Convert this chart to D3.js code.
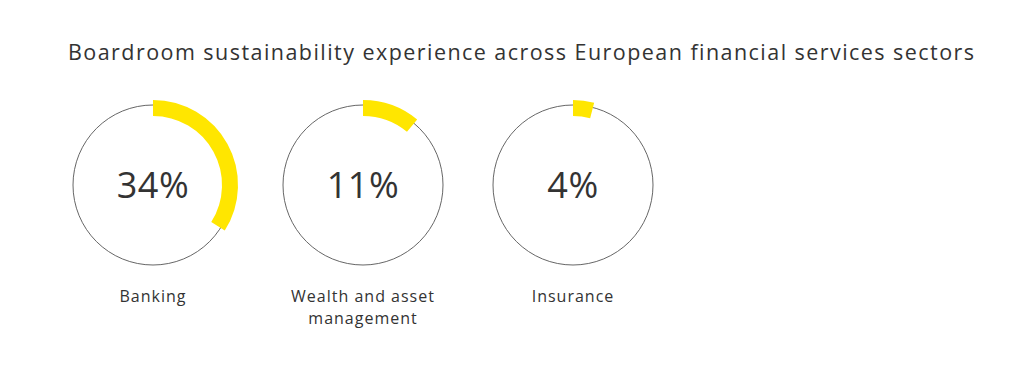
<!DOCTYPE html>
<html><head><meta charset="utf-8">
<script src="https://cdn.jsdelivr.net/npm/d3@7"></script>
<style>body{margin:0;background:#fff;}svg{display:block;}</style>
</head><body>
<svg id="chart" width="1024" height="376"></svg>
<script>
const title = "Boardroom sustainability experience across European financial services sectors";
const categories = [["Banking"], ["Wealth and asset", "management"], ["Insurance"]];
const values = [34, 11, 4];

const svg = d3.select("#chart");
const W = 1024, H = 376;
svg.append("rect").attr("width", W).attr("height", H).attr("fill", "#fff");

svg.append("text").attr("x", 68).attr("y", 60)
  .attr("font-family", "Open Sans, sans-serif").attr("font-size", 21.5)
  .attr("letter-spacing", 1.45)
  .attr("fill", "#333").text(title);

const x = d3.scaleBand().domain(d3.range(values.length)).range([48, 678]).paddingInner(0);
const cy = 185, r = 80;
const pct = d3.scaleLinear().domain([0, 100]).range([0, 2 * Math.PI]);
const arc = d3.arc().innerRadius(69).outerRadius(85).startAngle(0);

const g = svg.selectAll("g.ring").data(values).join("g")
  .attr("class", "ring")
  .attr("transform", (d, i) => `translate(${x(i) + x.bandwidth() / 2},${cy})`);

g.append("circle").attr("r", r).attr("fill", "none").attr("stroke", "#555").attr("stroke-width", 0.9);
g.append("path").attr("d", d => arc({endAngle: pct(d)})).attr("fill", "#FFE600");
g.append("text").attr("text-anchor", "middle").attr("y", 13)
  .attr("font-family", "Open Sans, sans-serif").attr("font-size", 36)
  .attr("letter-spacing", 0.5)
  .attr("fill", "#333").text(d => d + "%");

g.each(function(d, i) {
  const t = d3.select(this).append("text").attr("text-anchor", "middle")
    .attr("font-family", "Open Sans, sans-serif").attr("font-size", 16)
    .attr("letter-spacing", 1).attr("fill", "#333");
  categories[i].forEach((line, j) => {
    t.append("tspan").attr("x", 0).attr("y", 117 + j * 22).text(line);
  });
});
</script>
</body></html>
